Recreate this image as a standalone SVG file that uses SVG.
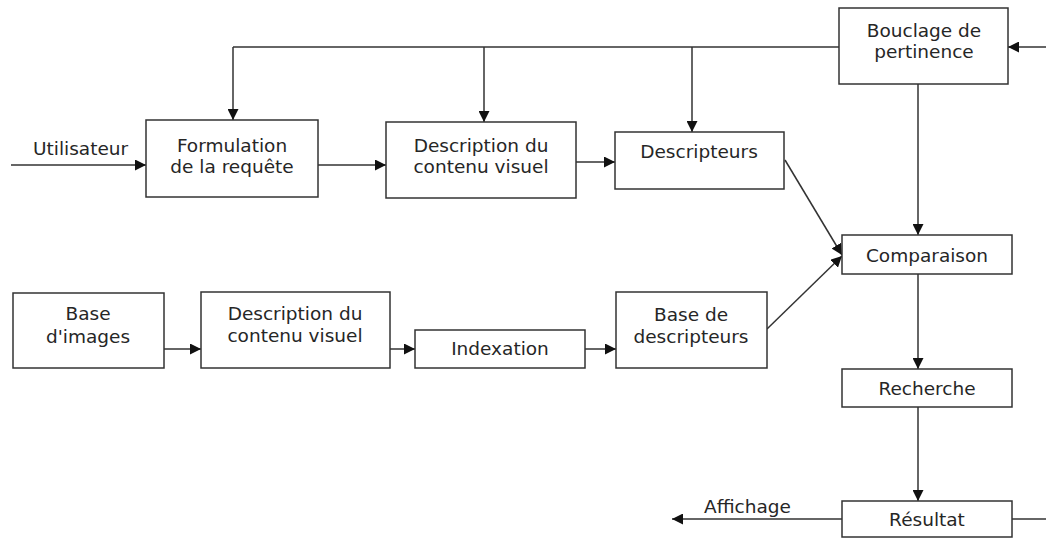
<svg xmlns="http://www.w3.org/2000/svg" width="1046" height="538" viewBox="0 0 1046 538">
  <style>
    .box { fill: #ffffff; stroke: #333333; stroke-width: 1.5; }
    .lbl { font-family: "DejaVu Sans", Verdana, sans-serif; font-size: 18.5px; fill: #262626; text-anchor: middle; }
    .free { font-family: "DejaVu Sans", Verdana, sans-serif; font-size: 18.5px; fill: #262626; }
    .wire { fill: none; stroke: #333333; stroke-width: 1.5; }
    .arr { marker-end: url(#head); }
  </style>
  <defs>
    <marker id="head" viewBox="0 0 10 10" refX="10" refY="5" markerWidth="11" markerHeight="11" markerUnits="userSpaceOnUse" orient="auto">
      <path d="M0,0 L10,5 L0,10 Z" fill="#111111"/>
    </marker>
  </defs>
  <rect width="1046" height="538" fill="#ffffff"/>

  <!-- connectors -->
  <g id="connectors">
    <!-- feedback bus from "Bouclage de pertinence" -->
    <path class="wire" d="M839,47 L233,47"/>
    <path class="wire arr" d="M233,47 L233,120"/>
    <path class="wire arr" d="M484,47 L484,122"/>
    <path class="wire arr" d="M692,47 L692,132"/>
    <path class="wire arr" d="M1046,47 L1008,47"/>
    <!-- query chain -->
    <path class="wire arr" d="M11,165 L146,165"/>
    <path class="wire arr" d="M318,165 L386,165"/>
    <path class="wire arr" d="M576,162 L615,162"/>
    <path class="wire arr" d="M785,160 L842,255"/>
    <!-- indexing chain -->
    <path class="wire arr" d="M164,349 L201,349"/>
    <path class="wire arr" d="M390,349 L415,349"/>
    <path class="wire arr" d="M585,349 L616,349"/>
    <path class="wire arr" d="M767,329 L842,256"/>
    <!-- search column -->
    <path class="wire arr" d="M918,84 L918,235"/>
    <path class="wire arr" d="M918,274 L918,369"/>
    <path class="wire arr" d="M918,407 L918,501"/>
    <path class="wire arr" d="M842,519 L672,519"/>
    <path class="wire" d="M1012,519 L1046,519"/>
  </g>

  <text class="free" x="33" y="155">Utilisateur</text>
  <text class="free" x="704" y="513">Affichage</text>

  <g id="formulation">
    <rect class="box" x="146" y="120" width="172" height="77"/>
    <text class="lbl" x="232" y="152">Formulation</text>
    <text class="lbl" x="232" y="173">de la requête</text>
  </g>
  <g id="description-requete">
    <rect class="box" x="386" y="122" width="190" height="76"/>
    <text class="lbl" x="481" y="152">Description du</text>
    <text class="lbl" x="481" y="173">contenu visuel</text>
  </g>
  <g id="descripteurs">
    <rect class="box" x="615" y="132" width="169" height="57"/>
    <text class="lbl" x="699" y="158">Descripteurs</text>
  </g>
  <g id="bouclage">
    <rect class="box" x="839" y="8" width="169" height="76"/>
    <text class="lbl" x="924" y="37">Bouclage de</text>
    <text class="lbl" x="924" y="58">pertinence</text>
  </g>
  <g id="base-images">
    <rect class="box" x="13" y="293" width="151" height="75"/>
    <text class="lbl" x="88" y="320">Base</text>
    <text class="lbl" x="88" y="343">d'images</text>
  </g>
  <g id="description-base">
    <rect class="box" x="201" y="292" width="189" height="76"/>
    <text class="lbl" x="295" y="320">Description du</text>
    <text class="lbl" x="295" y="342">contenu visuel</text>
  </g>
  <g id="indexation">
    <rect class="box" x="415" y="330" width="170" height="38"/>
    <text class="lbl" x="500" y="355">Indexation</text>
  </g>
  <g id="base-descripteurs">
    <rect class="box" x="616" y="292" width="151" height="76"/>
    <text class="lbl" x="691" y="321">Base de</text>
    <text class="lbl" x="691" y="343">descripteurs</text>
  </g>
  <g id="comparaison">
    <rect class="box" x="842" y="235" width="170" height="39"/>
    <text class="lbl" x="927" y="262">Comparaison</text>
  </g>
  <g id="recherche">
    <rect class="box" x="842" y="369" width="170" height="38"/>
    <text class="lbl" x="927" y="395">Recherche</text>
  </g>
  <g id="resultat">
    <rect class="box" x="842" y="501" width="170" height="36"/>
    <text class="lbl" x="927" y="526">Résultat</text>
  </g>
</svg>
